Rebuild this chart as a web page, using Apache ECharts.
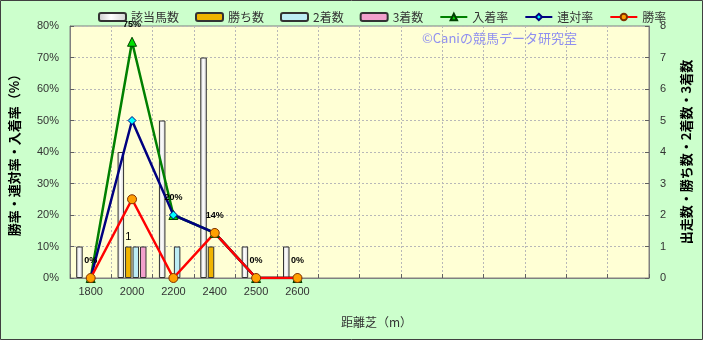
<!DOCTYPE html>
<html><head><meta charset="utf-8">
<script src="https://cdn.jsdelivr.net/npm/echarts@6/dist/echarts.min.js"></script>
<style>html,body{margin:0;padding:0;background:#CCFFCC}#c{width:703px;height:340px}</style>
</head><body><div id="c"></div>
<script>
// ---- data ----
const categories = ['1800','2000','2200','2400','2500','2600','','','','','','','',''];
const runners   = [1, 4, 5, 7, 1, 1];
const wins      = [0, 1, 0, 1, 0, 0];
const seconds   = [0, 1, 1, 0, 0, 0];
const thirds    = [0, 1, 0, 0, 0, 0];
const placeRate  = [0, 75, 20, 14.3, 0, 0];
const rentaiRate = [0, 50, 20, 14.3, 0, 0];
const winRate    = [0, 25, 0, 14.3, 0, 0];
const leftTicks  = {min: 0, max: 80, step: 10};
const rightTicks = {min: 0, max: 8, step: 1};
const winsLabelIndex = 1;

const JP = '"Noto Sans CJK JP", sans-serif';
const NUM = '"Liberation Sans", Arial, sans-serif';
const nz = v => (v === 0 ? '-' : v);

const chart = echarts.init(document.getElementById('c'));
const barBorder = {borderColor: '#333', borderWidth: 1};
const gridLine = {type: [2, 2], color: '#b8b8b8', width: 1};
const option = {
  animation: false,
  backgroundColor: '#CCFFCC',
  textStyle: {fontFamily: JP},
  legend: {
    left: 93, top: 6, itemWidth: 27, itemHeight: 8, itemGap: 16,
    textStyle: {fontSize: 12, color: '#333', fontFamily: JP},
    data: ['該当馬数','勝ち数','2着数','3着数','入着率','連対率','勝率']
  },
  grid: {left: 67, right: 54, top: 26, bottom: 62, show: true,
    backgroundColor: '#FFFFD5', borderColor: '#808080', borderWidth: 1},
  graphic: [
    {type: 'text', left: 422, top: 32, silent: true,
      style: {text: '©Caniの競馬データ研究室', fill: '#8F8FF0', font: '13px ' + JP}},
    {type: 'rect', silent: true, shape: {x: 0.5, y: 0.5, width: 702, height: 339},
      style: {fill: 'none', stroke: '#404040', lineWidth: 1}}
  ],
  xAxis: {
    type: 'category', data: categories, boundaryGap: true,
    axisLine: {lineStyle: {color: '#808080'}},
    axisTick: {show: true, inside: true, length: 4, interval: 0, lineStyle: {color: '#606060'}},
    axisLabel: {interval: 0, fontSize: 11, color: '#333', margin: 8, fontFamily: NUM},
    splitLine: {show: true, interval: 0, lineStyle: gridLine},
    name: '距離芝（m）', nameLocation: 'middle', nameGap: 38,
    nameTextStyle: {fontSize: 12, color: '#333', fontFamily: JP, padding: [0, 0, 0, 34]}
  },
  yAxis: [
    {type: 'value', min: leftTicks.min, max: leftTicks.max, interval: leftTicks.step,
      axisLine: {show: true, lineStyle: {color: '#808080'}},
      axisTick: {show: true, inside: true, length: 4, lineStyle: {color: '#606060'}},
      axisLabel: {formatter: '{value}%', fontSize: 11, color: '#333', margin: 11, fontFamily: NUM},
      splitLine: {show: true, lineStyle: gridLine},
      name: '勝率・連対率・入着率（%）', nameLocation: 'middle', nameRotate: 90, nameGap: 49,
      nameTextStyle: {fontSize: 13, fontWeight: 'bold', color: '#000', fontFamily: JP}},
    {type: 'value', position: 'right', min: rightTicks.min, max: rightTicks.max, interval: rightTicks.step,
      axisLine: {show: true, lineStyle: {color: '#808080'}},
      axisTick: {show: true, inside: true, length: 4, lineStyle: {color: '#606060'}},
      axisLabel: {fontSize: 11, color: '#333', margin: 11, fontFamily: NUM},
      splitLine: {show: false},
      name: '出走数・勝ち数・2着数・3着数', nameLocation: 'middle', nameRotate: 90, nameGap: 31,
      nameTextStyle: {fontSize: 13, fontWeight: 'bold', color: '#000', fontFamily: JP}}
  ],
  series: [
    {name: '該当馬数', type: 'bar', yAxisIndex: 1, barWidth: 6.5, barGap: '15%', barCategoryGap: '30%',
      itemStyle: Object.assign({color: new echarts.graphic.LinearGradient(0,0,1,0,[
        {offset: 0, color: '#c8c8c8'}, {offset: 0.45, color: '#ffffff'}, {offset: 1, color: '#d0d0d0'}])}, barBorder),
      data: runners.map(nz)},
    {name: '勝ち数', type: 'bar', yAxisIndex: 1, barWidth: 6.5, barGap: '15%',
      itemStyle: Object.assign({color: '#F0B400'}, barBorder),
      data: wins.map((v, i) => i === winsLabelIndex ? {value: nz(v),
        label: {show: true, position: 'top', distance: 4, fontSize: 11, color: '#000', fontFamily: NUM}} : nz(v))},
    {name: '2着数', type: 'bar', yAxisIndex: 1, barWidth: 6.5, barGap: '15%',
      itemStyle: Object.assign({color: '#BDEDF5'}, barBorder),
      data: seconds.map(nz)},
    {name: '3着数', type: 'bar', yAxisIndex: 1, barWidth: 6.5, barGap: '15%',
      itemStyle: Object.assign({color: '#F2A0CC'}, barBorder),
      data: thirds.map(nz)},
    {name: '入着率', type: 'line', yAxisIndex: 0, symbol: 'triangle', symbolSize: 9,
      lineStyle: {color: '#008000', width: 2.5},
      itemStyle: {color: '#00E000', borderColor: '#004000', borderWidth: 1},
      label: {show: true, position: 'top', distance: 8, fontSize: 9, fontWeight: 'bold', color: '#000',
        fontFamily: NUM, formatter: p => Math.round(p.value) + '%'},
      data: placeRate},
    {name: '連対率', type: 'line', yAxisIndex: 0, symbol: 'diamond', symbolSize: 8,
      lineStyle: {color: '#000080', width: 2.5},
      itemStyle: {color: '#00FFFF', borderColor: '#000080', borderWidth: 1},
      data: rentaiRate},
    {name: '勝率', type: 'line', yAxisIndex: 0, symbol: 'circle', symbolSize: 9,
      lineStyle: {color: '#FF0000', width: 2.5},
      itemStyle: {color: '#FFA000', borderColor: '#803000', borderWidth: 1},
      data: winRate}
  ]
};
chart.setOption(option);
</script></body></html>
